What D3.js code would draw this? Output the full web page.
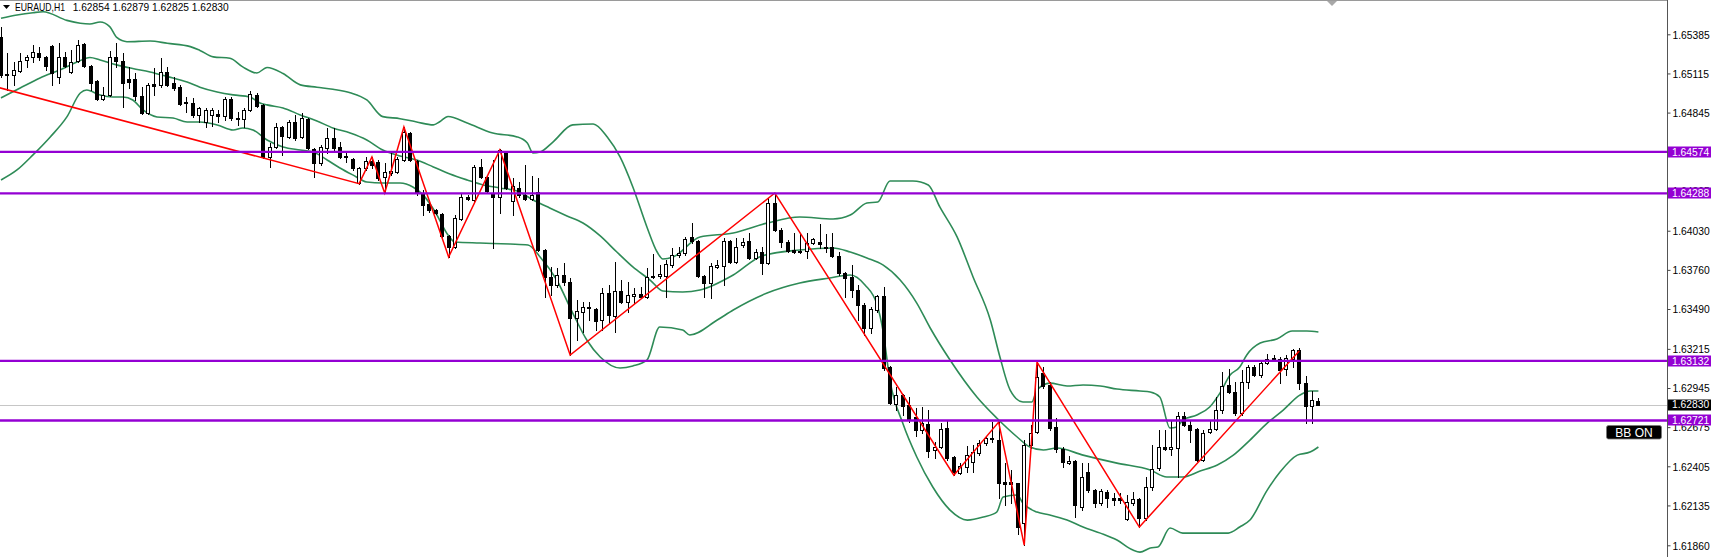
<!DOCTYPE html>
<html><head><meta charset="utf-8">
<script src="https://cdn.jsdelivr.net/npm/d3@7"></script>
<style>html,body{margin:0;padding:0;background:#fff;overflow:hidden}
text{font-family:"Liberation Sans",Arial,sans-serif}</style>
</head><body><svg id="c" width="1711" height="557"></svg>
<script>
const symbol = "EURAUD,H1";
const opens = [1.65367,1.65104,1.65104,1.65132,1.65208,1.65229,1.65256,1.65229,1.65305,1.65091,1.65229,1.65125,1.65201,1.65318,1.65167,1.65063,1.64939,1.64966,1.65229,1.65201,1.65077,1.65077,1.64960,1.64842,1.65042,1.65035,1.65125,1.65049,1.65022,1.64918,1.64911,1.64829,1.64780,1.64829,1.64835,1.64822,1.64939,1.64808,1.64801,1.64863,1.64966,1.64898,1.64539,1.64608,1.64746,1.64677,1.64780,1.64677,1.64801,1.64594,1.64497,1.64601,1.64670,1.64608,1.64546,1.64525,1.64359,1.64463,1.64511,1.64504,1.64401,1.64428,1.64435,1.64518,1.64704,1.64511,1.64290,1.64214,1.64173,1.64145,1.63994,1.63918,1.64111,1.64263,1.64242,1.64470,1.64401,1.64283,1.64263,1.64566,1.64235,1.64325,1.64276,1.64249,1.64297,1.63897,1.63711,1.63656,1.63725,1.63676,1.63428,1.63469,1.63504,1.63490,1.63414,1.63600,1.63442,1.63614,1.63538,1.63580,1.63593,1.63573,1.63718,1.63718,1.63718,1.63794,1.63862,1.63876,1.63987,1.63959,1.63718,1.63669,1.63780,1.63787,1.63959,1.63814,1.63932,1.63959,1.63842,1.63883,1.63807,1.64221,1.64035,1.63952,1.63897,1.63890,1.63890,1.63945,1.63952,1.63918,1.63918,1.63856,1.63738,1.63711,1.63621,1.63518,1.63359,1.63483,1.63580,1.63090,1.62834,1.62896,1.62828,1.62745,1.62655,1.62696,1.62517,1.62538,1.62669,1.62469,1.62358,1.62400,1.62434,1.62496,1.62565,1.62600,1.62586,1.62296,1.62296,1.62289,1.62013,1.62551,1.62641,1.63048,1.62965,1.62676,1.62524,1.62427,1.62441,1.62124,1.62365,1.62241,1.62151,1.62227,1.62186,1.62186,1.62041,1.62151,1.62179,1.62048,1.62262,1.62393,1.62538,1.62524,1.62531,1.62752,1.62689,1.62662,1.62448,1.62641,1.62662,1.62793,1.62965,1.62917,1.62772,1.62986,1.63090,1.63035,1.63117,1.63145,1.63145,1.63076,1.63145,1.63207,1.62979,1.62821,1.62854];
const highs = [1.65436,1.65256,1.65194,1.65256,1.65242,1.65311,1.65298,1.65236,1.65311,1.65325,1.65263,1.65277,1.65346,1.65325,1.65173,1.65070,1.65022,1.65270,1.65325,1.65256,1.65160,1.65118,1.65022,1.65049,1.65153,1.65222,1.65160,1.65091,1.65035,1.64953,1.64946,1.64884,1.64877,1.64877,1.64863,1.64953,1.64953,1.64849,1.64877,1.64994,1.64980,1.64904,1.64635,1.64773,1.64753,1.64794,1.64829,1.64842,1.64808,1.64601,1.64622,1.64739,1.64739,1.64642,1.64566,1.64532,1.64470,1.64539,1.64539,1.64518,1.64497,1.64573,1.64539,1.64746,1.64711,1.64518,1.64311,1.64242,1.64180,1.64152,1.64000,1.64138,1.64283,1.64276,1.64484,1.64525,1.64408,1.64518,1.64594,1.64573,1.64394,1.64366,1.64484,1.64408,1.64394,1.63904,1.63780,1.63773,1.63807,1.63704,1.63552,1.63538,1.63538,1.63497,1.63635,1.63656,1.63814,1.63690,1.63676,1.63635,1.63642,1.63773,1.63869,1.63794,1.63828,1.63911,1.63918,1.63987,1.64083,1.63966,1.63725,1.63807,1.63828,1.63980,1.63966,1.63980,1.63980,1.64014,1.63904,1.63918,1.64256,1.64290,1.64049,1.63966,1.64014,1.64014,1.64014,1.63980,1.64076,1.64007,1.64014,1.63883,1.63745,1.63794,1.63656,1.63531,1.63504,1.63587,1.63642,1.63097,1.62952,1.62903,1.62883,1.62807,1.62814,1.62793,1.62572,1.62703,1.62717,1.62476,1.62427,1.62545,1.62551,1.62586,1.62614,1.62710,1.62710,1.62427,1.62379,1.62289,1.62586,1.62689,1.63124,1.63090,1.62986,1.62738,1.62538,1.62476,1.62448,1.62427,1.62427,1.62248,1.62248,1.62241,1.62220,1.62220,1.62206,1.62227,1.62186,1.62331,1.62551,1.62655,1.62655,1.62724,1.62779,1.62779,1.62724,1.62669,1.62655,1.62724,1.62883,1.63055,1.63076,1.62986,1.63069,1.63103,1.63103,1.63138,1.63179,1.63172,1.63159,1.63172,1.63214,1.63221,1.63028,1.62924,1.62879];
const lows = [1.65091,1.65001,1.65035,1.65125,1.65160,1.65194,1.65208,1.65139,1.65035,1.65049,1.65160,1.65118,1.65194,1.65160,1.65001,1.64932,1.64932,1.64960,1.65160,1.64884,1.65015,1.64932,1.64835,1.64835,1.64966,1.65022,1.65029,1.65001,1.64898,1.64849,1.64815,1.64780,1.64746,1.64753,1.64780,1.64794,1.64794,1.64760,1.64746,1.64856,1.64884,1.64532,1.64470,1.64601,1.64553,1.64670,1.64656,1.64670,1.64594,1.64401,1.64484,1.64566,1.64587,1.64532,1.64504,1.64449,1.64352,1.64449,1.64463,1.64380,1.64290,1.64415,1.64428,1.64511,1.64511,1.64276,1.64138,1.64159,1.64145,1.63987,1.63849,1.63911,1.64104,1.64242,1.64235,1.64394,1.64297,1.63911,1.64152,1.64318,1.64138,1.64263,1.64242,1.64242,1.63890,1.63573,1.63587,1.63642,1.63656,1.63172,1.63276,1.63331,1.63414,1.63345,1.63345,1.63393,1.63331,1.63531,1.63469,1.63531,1.63566,1.63566,1.63704,1.63704,1.63573,1.63780,1.63849,1.63862,1.63945,1.63711,1.63573,1.63566,1.63773,1.63656,1.63807,1.63807,1.63918,1.63835,1.63835,1.63731,1.63800,1.64028,1.63918,1.63883,1.63876,1.63876,1.63842,1.63938,1.63911,1.63883,1.63849,1.63725,1.63573,1.63573,1.63414,1.63311,1.63324,1.63469,1.63069,1.62834,1.62793,1.62759,1.62710,1.62614,1.62634,1.62469,1.62462,1.62531,1.62448,1.62344,1.62351,1.62365,1.62365,1.62482,1.62551,1.62572,1.62186,1.62137,1.62151,1.61937,1.61861,1.62531,1.62634,1.62945,1.62655,1.62503,1.62400,1.62420,1.62055,1.62103,1.62227,1.62124,1.62137,1.62124,1.62137,1.62151,1.62034,1.62137,1.61986,1.62034,1.62241,1.62379,1.62517,1.62482,1.62331,1.62683,1.62572,1.62441,1.62441,1.62634,1.62655,1.62772,1.62910,1.62759,1.62759,1.62945,1.63028,1.63021,1.63110,1.63131,1.62979,1.63035,1.63090,1.62938,1.62703,1.62703,1.62825];
const closes = [1.65104,1.65111,1.65139,1.65201,1.65229,1.65263,1.65229,1.65167,1.65118,1.65229,1.65167,1.65194,1.65311,1.65167,1.65049,1.64939,1.64966,1.65229,1.65201,1.65049,1.65056,1.64960,1.64842,1.65035,1.65029,1.65125,1.65035,1.65015,1.64904,1.64911,1.64829,1.64877,1.64863,1.64863,1.64822,1.64939,1.64808,1.64801,1.64863,1.64973,1.64891,1.64539,1.64608,1.64746,1.64684,1.64780,1.64670,1.64808,1.64601,1.64497,1.64608,1.64670,1.64601,1.64539,1.64539,1.64463,1.64463,1.64511,1.64484,1.64394,1.64435,1.64442,1.64525,1.64711,1.64518,1.64290,1.64207,1.64173,1.64152,1.63994,1.63918,1.64118,1.64263,1.64249,1.64470,1.64401,1.64304,1.64263,1.64587,1.64325,1.64339,1.64276,1.64249,1.64276,1.63897,1.63711,1.63656,1.63725,1.63676,1.63428,1.63476,1.63504,1.63497,1.63407,1.63600,1.63449,1.63614,1.63538,1.63587,1.63593,1.63573,1.63711,1.63711,1.63731,1.63800,1.63862,1.63876,1.63973,1.63959,1.63718,1.63669,1.63787,1.63794,1.63959,1.63814,1.63918,1.63952,1.63842,1.63883,1.63807,1.64221,1.64035,1.63952,1.63890,1.63883,1.63883,1.63945,1.63973,1.63938,1.63911,1.63856,1.63738,1.63704,1.63621,1.63518,1.63359,1.63490,1.63580,1.63083,1.62841,1.62896,1.62821,1.62731,1.62655,1.62703,1.62510,1.62538,1.62662,1.62462,1.62365,1.62407,1.62482,1.62503,1.62565,1.62600,1.62593,1.62289,1.62282,1.62282,1.61986,1.62551,1.62634,1.63021,1.62959,1.62669,1.62524,1.62434,1.62441,1.62137,1.62331,1.62241,1.62151,1.62234,1.62186,1.62172,1.62172,1.62158,1.62179,1.62048,1.62262,1.62386,1.62538,1.62524,1.62538,1.62752,1.62689,1.62655,1.62448,1.62634,1.62662,1.62793,1.62959,1.62917,1.62772,1.62986,1.63090,1.63035,1.63117,1.63145,1.63152,1.63069,1.63152,1.63207,1.62979,1.62821,1.62862,1.62830];

// Bollinger bands: [bar index, price]
const upperBand = [[0,1.65496],[2.5,1.65518],[5,1.65534],[6.6,1.65541],[10.3,1.65481],[12.4,1.65461],[13.9,1.65456],[15.5,1.65470],[17,1.65438],[18.1,1.65363],[19.7,1.65334],[23.3,1.65339],[26,1.65323],[29.6,1.65300],[31.1,1.65274],[33.2,1.65229],[35.8,1.65220],[37.8,1.65160],[40,1.65118],[41.6,1.65156],[44.1,1.65115],[46.8,1.65036],[49.4,1.65020],[51.9,1.65006],[54.6,1.64982],[57.2,1.64932],[59.7,1.64817],[62.4,1.64803],[65,1.64780],[67.6,1.64760],[68.6,1.64782],[69.9,1.64818],[72.9,1.64773],[76.9,1.64704],[80.7,1.64677],[82.3,1.64635],[83.2,1.64566],[84.3,1.64573],[86.3,1.64642],[89.4,1.64760],[92.6,1.64766],[94.8,1.64677],[96.8,1.64539],[98.8,1.64332],[101,1.64056],[102.6,1.63883],[103.5,1.63835],[105.1,1.63849],[109.3,1.63987],[114.5,1.64014],[119.8,1.64083],[124.9,1.64125],[130.1,1.64111],[132.8,1.64138],[135.4,1.64221],[137.1,1.64228],[139,1.64373],[142.6,1.64373],[145,1.64346],[146.8,1.64194],[149.5,1.63987],[152,1.63711],[154.7,1.63414],[156.2,1.63159],[157.8,1.62931],[159.8,1.62849],[161.2,1.62849],[162,1.62931],[164,1.62979],[166.7,1.62959],[169.2,1.62966],[171.9,1.62959],[174.5,1.62938],[178.1,1.62924],[179.7,1.62917],[181.2,1.62883],[182.8,1.62669],[183.9,1.62676],[184.8,1.62724],[187,1.62759],[189,1.62814],[190.6,1.62910],[192.2,1.63034],[193.7,1.63090],[194.8,1.63173],[196.9,1.63255],[199.5,1.63283],[201.9,1.63338],[204.2,1.63338],[206,1.63331]];
const middleBand = [[0,1.64946],[3,1.65015],[6.1,1.65084],[9.2,1.65139],[11.9,1.65194],[13.9,1.65225],[15.5,1.65208],[18.1,1.65174],[20.6,1.65149],[23.3,1.65125],[26,1.65094],[29.1,1.65056],[31.1,1.65020],[33.8,1.64987],[36.3,1.64967],[38.9,1.64953],[40.5,1.64911],[41.6,1.64898],[44.1,1.64877],[46.8,1.64829],[49.4,1.64787],[51.9,1.64739],[54.6,1.64704],[57.2,1.64656],[59.7,1.64587],[62.4,1.64546],[65,1.64518],[67.6,1.64470],[70.2,1.64421],[72.9,1.64380],[75.4,1.64346],[78,1.64325],[80.7,1.64304],[83.2,1.64242],[85.8,1.64187],[88.5,1.64132],[91,1.64083],[93.7,1.63994],[96.3,1.63883],[98.8,1.63780],[101.5,1.63690],[103.5,1.63614],[106.6,1.63607],[109.3,1.63621],[114.5,1.63725],[119,1.63856],[124.9,1.63897],[130.1,1.63911],[132.8,1.63883],[135.4,1.63842],[137.9,1.63794],[140.6,1.63690],[143.2,1.63531],[145.3,1.63359],[148.4,1.63138],[152.6,1.62883],[155.7,1.62738],[158.9,1.62607],[160.9,1.62538],[163,1.62517],[165.1,1.62531],[169.2,1.62482],[174.5,1.62427],[179.7,1.62379],[182.3,1.62331],[184.8,1.62331],[187.5,1.62372],[190.2,1.62414],[192.7,1.62482],[195.3,1.62586],[198,1.62703],[200.5,1.62793],[203.1,1.62896],[204.7,1.62924],[206,1.62924]];
const lowerBand = [[0,1.64380],[2.5,1.64449],[5,1.64553],[7.7,1.64677],[10.3,1.64815],[12.4,1.64980],[13.4,1.65001],[15.5,1.64966],[17.5,1.64953],[19.1,1.64953],[20.6,1.64932],[22.2,1.64863],[24.4,1.64815],[26.9,1.64808],[29.1,1.64780],[31.1,1.64780],[33.8,1.64760],[36.3,1.64725],[37.8,1.64739],[39.4,1.64725],[41.6,1.64656],[44.1,1.64608],[46.8,1.64587],[48.8,1.64573],[51,1.64518],[53,1.64463],[55,1.64415],[57.2,1.64366],[59.7,1.64359],[62.4,1.64359],[64.4,1.64332],[66,1.64277],[67.9,1.64159],[69.9,1.64000],[71,1.63952],[74.9,1.63945],[79.6,1.63938],[82.4,1.63932],[84.3,1.63849],[86.9,1.63690],[89.4,1.63462],[91.6,1.63276],[93.7,1.63159],[96.8,1.63083],[98.8,1.63097],[101,1.63138],[103,1.63366],[106.6,1.63345],[107.7,1.63311],[112,1.63414],[114.5,1.63483],[119.8,1.63600],[124.9,1.63669],[129.6,1.63704],[132.8,1.63725],[135.1,1.63656],[137,1.63518],[137.9,1.63345],[139,1.62998],[141,1.62703],[143.2,1.62469],[145.7,1.62262],[148.4,1.62103],[151.1,1.62034],[153.6,1.62055],[155.7,1.62089],[156.7,1.62193],[158.9,1.62207],[159.8,1.62151],[162,1.62089],[164,1.62069],[166.7,1.62034],[169.2,1.61986],[171.9,1.61944],[174.5,1.61896],[177,1.61827],[178.1,1.61813],[179.7,1.61841],[180.9,1.61848],[182.8,1.61979],[184.8,1.61944],[187.5,1.61944],[191.9,1.61944],[193.7,1.61986],[195.3,1.62034],[198,1.62241],[200,1.62365],[202.7,1.62482],[204.7,1.62503],[206,1.62538]];

// ZigZag pivots
const zzIdx = [-10,56,58,60,63,70,78,89,121,149,156,160,162,178,203];
const zzPrice = [1.65131,1.64355,1.64539,1.64290,1.64746,1.63849,1.64587,1.63172,1.64290,1.62344,1.62710,1.61861,1.63124,1.61986,1.63200];

// Horizontal levels and axis
const levels = [1.64574,1.64288,1.63132,1.62721];
const currentPrice = 1.62830;
const tickLabels = ["1.65385","1.65115","1.64845","1.64575","1.64305","1.64030","1.63760","1.63490","1.63215","1.62945","1.62675","1.62405","1.62135","1.61860"];

const W = 1711, H = 557, plotW = 1667;
const svg = d3.select("#c");
const x = d3.scaleLinear().domain([0, 206]).range([1, 1318.4]);
const y = d3.scaleLinear().domain([1.65385, 1.61860]).range([34.3, 545.3]);

svg.append("defs").append("clipPath").attr("id","clip")
  .append("rect").attr("x",0).attr("y",1).attr("width",plotW).attr("height",H);
const plot = svg.append("g").attr("clip-path","url(#clip)");

// current price line
plot.append("line").attr("x1",0).attr("x2",plotW)
  .attr("y1",Math.round(y(currentPrice))+0.5).attr("y2",Math.round(y(currentPrice))+0.5)
  .attr("stroke","#c6c6c6").attr("stroke-width",1);

// Bollinger bands
const bbLine = d3.line().x(d=>x(d[0])).y(d=>y(d[1])).curve(d3.curveMonotoneX);
plot.selectAll("path.bb").data([upperBand, middleBand, lowerBand]).join("path")
  .attr("class","bb").attr("d", bbLine).attr("fill","none")
  .attr("stroke","#2e8b57").attr("stroke-width",1.6);

// candles
const idx = d3.range(opens.length);
const cg = plot.append("g");
const px = i => Math.round(x(i));
cg.selectAll("line.wick").data(idx).join("line").attr("class","wick")
  .attr("x1", i=>px(i)+0.5).attr("x2", i=>px(i)+0.5)
  .attr("y1", i=>Math.round(y(Math.max(highs[i],opens[i],closes[i]))))
  .attr("y2", i=>Math.round(y(Math.min(lows[i],opens[i],closes[i])))+1)
  .attr("stroke","#000").attr("stroke-width",1);
const bodyTop = i => Math.round(y(Math.max(opens[i],closes[i])));
const bodyBot = i => Math.round(y(Math.min(opens[i],closes[i])));
const isBull = i => closes[i] > opens[i] && bodyBot(i)-bodyTop(i) >= 2;
cg.selectAll("rect.bear").data(idx.filter(i=>!isBull(i))).join("rect").attr("class","bear")
  .attr("x", i=>px(i)-2).attr("width",4)
  .attr("y", i=>bodyTop(i)).attr("height", i=>Math.max(1, bodyBot(i)-bodyTop(i)+1))
  .attr("fill","#000");
cg.selectAll("rect.bull").data(idx.filter(isBull)).join("rect").attr("class","bull")
  .attr("x", i=>px(i)-1.5).attr("width",3)
  .attr("y", i=>bodyTop(i)+0.5).attr("height", i=>bodyBot(i)-bodyTop(i))
  .attr("fill","#fff").attr("stroke","#000").attr("stroke-width",1);

// zigzag
const zz = zzIdx.map((d,k)=>[d, zzPrice[k]]);
plot.append("path").attr("d", d3.line().x(d=>x(d[0])).y(d=>y(d[1]))(zz))
  .attr("fill","none").attr("stroke","#ff0000").attr("stroke-width",1.5);

// horizontal levels
plot.selectAll("line.lvl").data(levels).join("line").attr("class","lvl")
  .attr("x1",0).attr("x2",plotW).attr("y1",d=>y(d)).attr("y2",d=>y(d))
  .attr("stroke","#9400d3").attr("stroke-width",2.4);

// frame
svg.append("line").attr("x1",0).attr("x2",plotW).attr("y1",0.5).attr("y2",0.5).attr("stroke","#9a9a9a");
svg.append("line").attr("x1",plotW+0.5).attr("x2",plotW+0.5).attr("y1",0).attr("y2",H).attr("stroke","#555");
svg.append("path").attr("d","M1327,1L1337,1L1332,6Z").attr("fill","#a8a8a8");

// axis
const axis = d3.axisRight(y).tickValues(tickLabels.map(Number))
  .tickFormat((d,i)=>tickLabels[i]).tickSize(3).tickPadding(2);
const ag = svg.append("g").attr("transform",`translate(${plotW+0.5},0)`).call(axis);
ag.select(".domain").remove();
ag.selectAll(".tick line").attr("stroke","#444");
ag.selectAll(".tick text").attr("font-family","'Liberation Sans',Arial,sans-serif")
  .attr("font-size","10.3px").attr("fill","#000").attr("dy","0.36em");

// level labels
const lab = svg.selectAll("g.lab").data(levels.map(v=>({v, c:"#9400d3"})).concat([{v:currentPrice, c:"#000"}]))
  .join("g").attr("class","lab");
lab.append("rect").attr("x",plotW+1).attr("width",W-plotW-1)
  .attr("y",d=>Math.round(y(d.v))-5.5).attr("height",11).attr("fill",d=>d.c);
lab.append("text").attr("x",plotW+5).attr("y",d=>y(d.v)).attr("dy","0.36em")
  .attr("font-size","10.3px").attr("fill","#fff").text(d=>d.v.toFixed(5));

// BB ON badge
svg.append("rect").attr("x",1606.5).attr("y",425.5).attr("width",55).attr("height",13.5)
  .attr("rx",2).attr("fill","#000").attr("stroke","#777").attr("stroke-width",0.8);
svg.append("text").attr("x",1634).attr("y",436.6).attr("text-anchor","middle")
  .attr("font-size","12px").attr("fill","#fff").text("BB ON");

// title
const last = opens.length-1;
svg.append("path").attr("d","M3,5L10,5L6.5,9Z").attr("fill","#000");
svg.append("text").attr("x",15).attr("y",11).attr("font-size","10.3px").attr("fill","#000")
  .attr("textLength",50).attr("lengthAdjust","spacingAndGlyphs").text(symbol);
svg.append("text").attr("x",72.7).attr("y",11).attr("font-size","10.3px").attr("fill","#000")
  .attr("textLength",156).attr("lengthAdjust","spacingAndGlyphs")
  .text([opens[last],highs[last],lows[last],closes[last]].map(v=>v.toFixed(5)).join(" "));
</script>
</body></html>
